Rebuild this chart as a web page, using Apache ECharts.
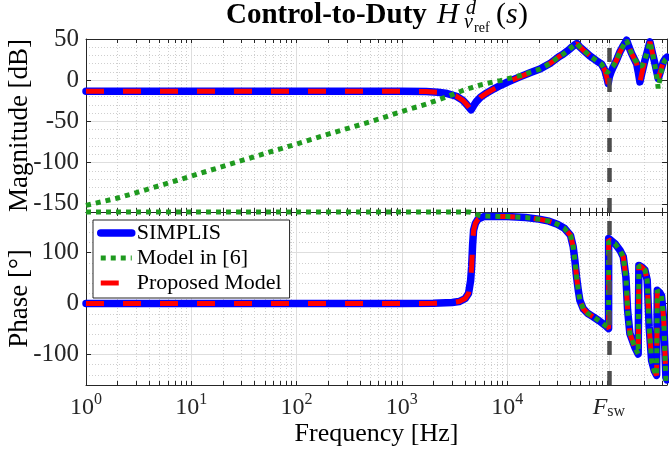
<!DOCTYPE html>
<html>
<head>
<meta charset="utf-8">
<script src="https://cdn.jsdelivr.net/npm/echarts@6/dist/echarts.min.js"></script>
<style>
  html, body { margin: 0; padding: 0; background: #fff; }
  #chart { width: 669px; height: 451px; }
</style>
</head>
<body>
<div id="chart"></div>
<script>
const FONT = '"Liberation Serif", "Times New Roman", serif';
const AXIS = "#262626";
const GRID = "#dedede";
const MINOR = "#cfcfcf";

const FSW = 92600;
const X_MIN = 1;
const X_MAX = 330000;

// --- magnitude [dB] ---
const magFreq = [1, 2, 3, 5, 10, 20, 50, 100, 200, 500,
  1000, 1700, 2200, 2700, 3300, 3800, 4100, 4350, 4550, 4800,
  5100, 5600, 6400, 7500, 8600, 10000, 13200, 16500, 20500, 26000,
  31000, 34000, 37000, 39500, 42000, 44000, 46000, 48500, 53000, 61000,
  70800, 78900, 84800, 89000, 91200, 93500, 97000, 101800, 110000, 118000,
  127000, 136400, 144000, 152000, 161000, 170000, 176000, 182500, 190000, 203600,
  216000, 227200, 240000, 253500, 264000, 272500, 288000, 304000, 318000, 330000];
const magSimplis = [-13.4, -13.4, -13.4, -13.4, -13.4, -13.4, -13.4, -13.4, -13.4, -13.4,
  -13.5, -13.8, -14.6, -16.2, -19.5, -24.5, -29, -33, -36, -31,
  -26, -20.5, -15.5, -10.5, -6.5, -2.5, 4, 9, 13.5, 21,
  28.5, 31.5, 35, 38, 41, 43, 44.5, 41, 36.5, 29.5,
  23.5, 19.5, 12, 2, -4, 4, 10, 16, 25, 34.5,
  42, 48.5, 40, 32.5, 26, 20, 10, -2, 8, 24,
  36, 46.5, 33, 20, 10, 2, 12, 22, 26, 28];
const magProposed = [-13.4, -13.4, -13.4, -13.4, -13.4, -13.4, -13.4, -13.4, -13.4, -13.4,
  -13.5, -13.8, -14.6, -16.2, -19.5, -24.5, -29, -33, -36.5, -31,
  -26, -20.5, -15.5, -10.5, -6.5, -2.5, 4, 9, 13.5, 21,
  28.5, 31.5, 35, 38, 41, 43, 44.5, 41, 36.5, 29.5,
  23.5, 19.5, 12, 2, -4.5, 4, 10, 16, 25, 34.5,
  42, 48.5, 40, 32.5, 26, 20, 10, -2.5, 8, 24,
  36, 46.5, 33, 20, 10, 2, 12, 22, 26, 28];
const magModel6 = [-152, -143, -136.5, -128, -116.5, -104.5, -89, -77.5, -65.5, -50.5,
  -38, -29, -24, -20, -15.5, -12.5, -11, -10, -9.2, -8.3,
  -7.3, -5.8, -4, -2, -0.5, 1.5, 5.5, 9.5, 13.5, 21,
  28.5, 31.5, 35, 38, 41, 43, 44.5, 41, 36.5, 29.5,
  23.5, 19.5, 13, 9, 10, 12, 13, 17, 25, 34.5,
  42, 48.5, 40, 32.5, 26, 22, 18, 16, 17, 25,
  36, 46.5, 33, 18, 4, -10, 8, 20, 25, 27];

// --- phase [deg] ---
const phaseFreq = [1, 10, 100, 1000, 2000, 3000, 3500, 4000, 4300, 4500,
  4600, 4700, 4800, 5000, 5300, 6000, 10000, 15000, 20000, 25000,
  30000, 35000, 40000, 42400, 44000, 45700, 47500, 49100, 52800, 58000,
  65800, 75000, 88000, 92000, 92100, 94700, 105600, 117900, 126800, 134400,
  139400, 146600, 163400, 175700, 178300, 178400, 190000, 203600, 214000, 223400,
  235600, 250000, 263000, 267000, 267100, 280000, 292500, 307600, 322000, 330000];
const phaseSimplis = [0, 0, 0, 0, 0.5, 2, 4, 10, 20, 45,
  72, 115, 144, 158, 166, 171, 171, 169, 166, 162,
  156, 148, 134, 112, 85, 52, 25, 6.5, -10, -19,
  -26, -34, -45, -49, 128, 125, 118, 105, 92, 52,
  -13, -59, -86, -99, -100, 75, 72, 66, 46, -46,
  -112, -132, -141, -143, 26, 22, 16, -33, -145, -150];
const phaseProposed = [0, 0, 0, 0, 0.5, 2, 4, 10, 20, 45,
  72, 115, 144, 158, 166, 171, 171, 169, 166, 162,
  156, 148, 134, 112, 85, 52, 25, 6.5, -10, -19,
  -26, -34, -45, -49, 126, 124, 118, 105, 92, 52,
  -13, -59, -86, -99, -100, 74, 72, 66, 46, -46,
  -112, -132, -141, -143, 24, 22, 16, -33, -145, -150];
const phaseModel6 = [180, 180, 180, 180, 180, 180, 180, 180, 180, 179.5,
  179, 178.5, 178, 176, 174, 172, 171, 169, 166, 162,
  156, 148, 134, 112, 85, 52, 25, 6.5, -10, -19,
  -26, -34, -45, -48, 122, 122, 118, 105, 92, 52,
  -13, -59, -86, -99, -100, 75, 72, 66, 46, -46,
  -112, -132, -141, -143, 26, 22, 16, -33, -152, -158];

// --- ticks ---
const xLabelValues = [1, 10, 100, 1000, 10000, FSW];
const xMajorGrid = [10, 100, 1000, 10000, FSW];
const xMinorGrid = [];
for (let k = 0; k <= 5; k++) {
  for (let d = 2; d <= 9; d++) {
    const f = d * Math.pow(10, k);
    if (f < X_MAX) xMinorGrid.push(f);
  }
}
const xTickValues = xLabelValues.concat(xMinorGrid);
const magTicks = [-150, -100, -50, 0, 50];
const phaseTicks = [-100, 0, 100];

const chart = echarts.init(document.getElementById("chart"));

function pairs(freq, vals) {
  return freq.map((f, i) => [f, vals[i]]);
}

function xAxesFor(gi, bottom) {
  const base = { type: "log", gridIndex: gi, min: X_MIN, max: X_MAX, logBase: 10 };
  return [
    // minor grid
    Object.assign({}, base, {
      position: "bottom",
      axisLine: { show: false, onZero: false },
      axisTick: { show: false, customValues: xMinorGrid },
      axisLabel: { show: false },
      splitLine: { show: true, lineStyle: { color: MINOR, width: 1, type: [1, 2] } },
    }),
    // major grid
    Object.assign({}, base, {
      position: "bottom",
      axisLine: { show: false, onZero: false },
      axisTick: { show: false, customValues: xMajorGrid },
      axisLabel: { show: false },
      splitLine: { show: true, lineStyle: { color: GRID, width: 1 } },
    }),
    // bottom edge, ticks, labels
    Object.assign({}, base, {
      position: "bottom",
      axisLine: { show: true, onZero: false, lineStyle: { color: AXIS, width: 1 } },
      axisTick: { show: true, inside: true, length: 4, customValues: xTickValues, lineStyle: { color: AXIS } },
      axisLabel: bottom
        ? {
            show: true,
            customValues: xLabelValues,
            margin: 7,
            formatter: (v) =>
              Math.abs(v - FSW) < 1
                ? "{it|F}{sub|sw}"
                : "{num|10}{sup|" + Math.round(Math.log10(v)) + "}",
            rich: {
              num: { fontFamily: FONT, fontSize: 24, color: AXIS, lineHeight: 28, verticalAlign: "bottom" },
              sup: { fontFamily: FONT, fontSize: 16, color: AXIS, lineHeight: 14, verticalAlign: "top" },
              it: { fontFamily: FONT, fontStyle: "italic", fontSize: 24, color: AXIS, lineHeight: 28, verticalAlign: "bottom" },
              sub: { fontFamily: FONT, fontSize: 16, color: AXIS, lineHeight: 22, verticalAlign: "bottom" },
            },
          }
        : { show: false },
      splitLine: { show: false },
      name: bottom ? "Frequency [Hz]" : "",
      nameLocation: "middle",
      nameGap: 36,
      nameMoveOverlap: false,
      nameTextStyle: { fontFamily: FONT, fontSize: 26, color: "#000" },
    }),
    // top edge
    Object.assign({}, base, {
      position: "top",
      axisLine: { show: true, onZero: false, lineStyle: { color: AXIS, width: 1 } },
      axisTick: { show: true, inside: true, length: 4, customValues: xTickValues, lineStyle: { color: AXIS } },
      axisLabel: { show: false },
      splitLine: { show: false },
    }),
  ];
}

function yAxesFor(gi, min, max, ticks, minorStep, splitNumber, name) {
  return [
    {
      type: "value", gridIndex: gi, position: "left", min, max, interval: minorStep,
      axisLine: { show: false, onZero: false },
      axisTick: { show: false },
      axisLabel: { show: false },
      splitLine: { show: true, lineStyle: { color: MINOR, width: 1, type: [1, 2] } },
    },
    {
      type: "value", gridIndex: gi, position: "left", min, max, splitNumber,
      axisLine: { show: true, onZero: false, lineStyle: { color: AXIS, width: 1 } },
      axisTick: { show: true, inside: true, length: 5, customValues: ticks, lineStyle: { color: AXIS } },
      axisLabel: { show: true, customValues: ticks, margin: 7, fontFamily: FONT, fontSize: 25, color: AXIS },
      splitLine: { show: true, lineStyle: { color: GRID, width: 1 } },
      name,
      nameLocation: "middle",
      nameRotate: 90,
      nameGap: 53,
      nameMoveOverlap: false,
      nameTextStyle: { fontFamily: FONT, fontSize: 27, color: "#000" },
    },
    {
      type: "value", gridIndex: gi, position: "right", min, max, splitNumber,
      axisLine: { show: true, onZero: false, lineStyle: { color: AXIS, width: 1 } },
      axisTick: { show: true, inside: true, length: 5, customValues: ticks, lineStyle: { color: AXIS } },
      axisLabel: { show: false },
      splitLine: { show: false },
    },
  ];
}

const fswLine = {
  symbol: "none",
  silent: true,
  label: { show: false },
  lineStyle: { color: "#4d4d4d", width: 4.5, type: [14, 16] },
  data: [{ xAxis: FSW }],
};

function blue(xi, yi, data, withFsw) {
  const s = {
    name: "SIMPLIS", type: "line", xAxisIndex: xi, yAxisIndex: yi, data,
    symbol: "none", z: 2,
    lineStyle: { color: "#0000ff", width: 7.5, cap: "round", join: "round" },
    itemStyle: { color: "#0000ff" },
  };
  if (withFsw) s.markLine = fswLine;
  return s;
}
function green(xi, yi, data, clip) {
  return {
    name: "Model in [6]", type: "line", xAxisIndex: xi, yAxisIndex: yi, data,
    symbol: "none", z: 4, clip,
    lineStyle: { color: "#1f9a1f", width: 5, type: "dotted" },
    itemStyle: { color: "#1f9a1f" },
  };
}
function red(xi, yi, data) {
  return {
    name: "Proposed Model", type: "line", xAxisIndex: xi, yAxisIndex: yi, data,
    symbol: "none", z: 3,
    lineStyle: { color: "#ff0000", width: 5, type: [18, 19] },
    itemStyle: { color: "#ff0000" },
  };
}

const titleFont = (style, size) => style + " " + size + 'px "Liberation Serif"';

chart.setOption({
  animation: false,
  backgroundColor: "#fff",
  grid: [
    { left: 86, top: 39, width: 581, height: 173, containLabel: false, outerBoundsMode: "none" },
    { left: 86, top: 212, width: 581, height: 173, containLabel: false, outerBoundsMode: "none" },
  ],
  xAxis: xAxesFor(0, false).concat(xAxesFor(1, true)),
  yAxis: yAxesFor(0, -160, 50, magTicks, 10, 4, "Magnitude [dB]")
    .concat(yAxesFor(1, -160, 180, phaseTicks, 20, 3, "Phase [°]")),
  legend: {
    data: ["SIMPLIS", "Model in [6]", "Proposed Model"],
    orient: "vertical",
    left: 93,
    top: 220,
    itemWidth: 31,
    itemHeight: 10,
    itemGap: 3,
    padding: [2, 8, 4, 4],
    backgroundColor: "#fff",
    borderColor: AXIS,
    borderWidth: 1,
    borderRadius: 0,
    selectedMode: false,
    z: 10,
    itemStyle: { opacity: 0 },
    lineStyle: { width: "inherit" },
    textStyle: { fontFamily: FONT, fontSize: 22, color: "#000", lineHeight: 22 },
  },
  graphic: [
    { type: "text", x: 226, y: 1, style: { text: "Control-to-Duty", font: titleFont("bold", 29), fill: "#000" } },
    { type: "text", x: 437, y: 0, style: { text: "H", font: titleFont("italic", 30), fill: "#000" } },
    { type: "text", x: 466, y: -1, style: { text: "d", font: titleFont("italic", 20), fill: "#000" } },
    { type: "text", x: 464, y: 13, style: { text: "v", font: titleFont("italic", 20), fill: "#000" } },
    { type: "text", x: 474, y: 21, style: { text: "ref", font: titleFont("normal", 14), fill: "#000" } },
    { type: "text", x: 496, y: 0, style: { text: "(", font: titleFont("normal", 30), fill: "#000" } },
    { type: "text", x: 506, y: 0, style: { text: "s", font: titleFont("italic", 30), fill: "#000" } },
    { type: "text", x: 518, y: 0, style: { text: ")", font: titleFont("normal", 30), fill: "#000" } },
  ],
  series: [
    blue(2, 1, pairs(magFreq, magSimplis), true),
    green(2, 1, pairs(magFreq, magModel6), true),
    red(2, 1, pairs(magFreq, magProposed)),
    blue(6, 4, pairs(phaseFreq, phaseSimplis), true),
    green(6, 4, pairs(phaseFreq, phaseModel6), false),
    red(6, 4, pairs(phaseFreq, phaseProposed)),
  ],
});
</script>
</body>
</html>
